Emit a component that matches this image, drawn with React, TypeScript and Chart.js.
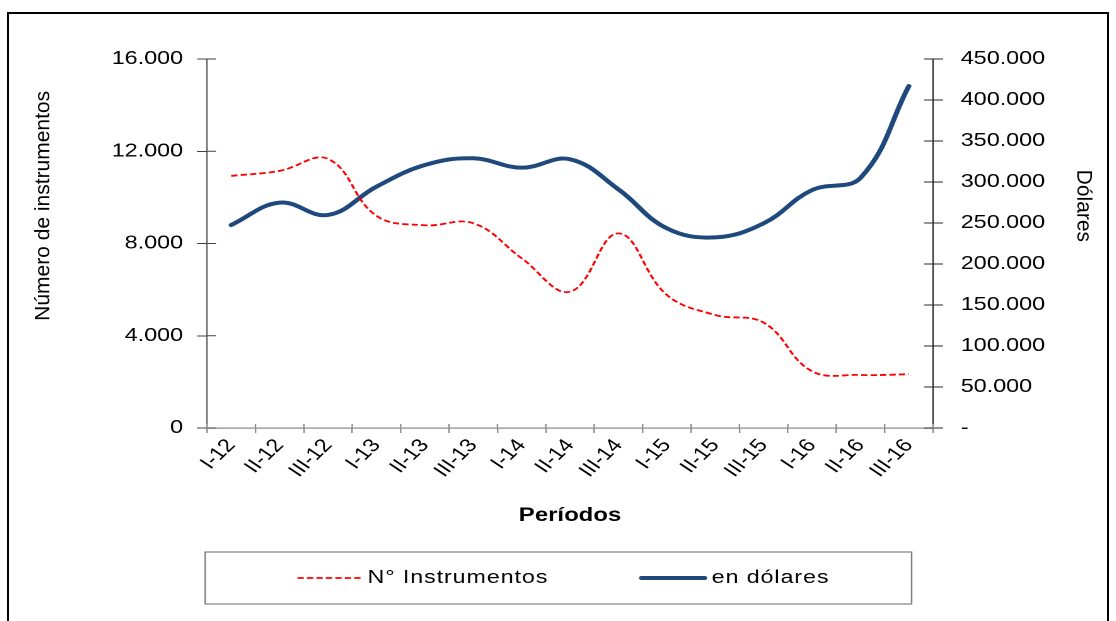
import React, { useEffect, useRef } from 'react';
import { Chart, registerables } from 'chart.js';

Chart.register(...registerables);

// ---- data ----
const CATEGORIES = ['I-12', 'II-12', 'III-12', 'I-13', 'II-13', 'III-13', 'I-14', 'II-14', 'III-14', 'I-15', 'II-15', 'III-15', 'I-16', 'II-16', 'III-16'];
const INSTRUMENTOS = [10930, 11150, 11670, 9200, 8790, 8880, 7360, 5910, 8440, 5770, 4900, 4570, 2460, 2300, 2330];
const DOLARES = [247600, 274800, 259800, 294300, 320700, 328900, 317500, 327700, 291000, 243500, 232500, 249600, 290200, 305000, 417000];
const LEFT_TICKS = [0, 4000, 8000, 12000, 16000];
const RIGHT_TICKS = [0, 50000, 100000, 150000, 200000, 250000, 300000, 350000, 400000, 450000];
const SERIES_NAMES = ['N° Instrumentos', 'en dólares'];
const X_TITLE = 'Períodos';
const LEFT_TITLE = 'Número de instrumentos';
const RIGHT_TITLE = 'Dólares';

// ---- style / layout ----
const FONT = "'Liberation Sans', Arial, Helvetica, sans-serif";
const INNER_W = 1098;
const PRE_W = 871;
const S = INNER_W / PRE_W;
const CANVAS_H = 607;

const fmt = (v: number) => String(Math.round(v)).replace(/\B(?=(\d{3})+(?!\d))/g, '.');

const decorPlugin = {
  id: 'decor',
  afterDraw(chart: any) {
    const { ctx, chartArea: ca, scales } = chart;
    const x = scales.x;
    const yl = scales.y;
    const yr = scales.y1;
    const line = (x1: number, y1: number, x2: number, y2: number) => {
      ctx.beginPath();
      ctx.moveTo(x1, y1);
      ctx.lineTo(x2, y2);
      ctx.stroke();
    };
    ctx.save();
    // inward halves of the crossing tick marks
    ctx.lineWidth = 1;
    ctx.strokeStyle = '#404040';
    yl.ticks.forEach((t: any) => {
      const py = yl.getPixelForValue(t.value);
      line(ca.left, py, ca.left + 7, py);
    });
    ctx.strokeStyle = '#262626';
    yr.ticks.forEach((t: any) => {
      const py = yr.getPixelForValue(t.value);
      line(ca.right, py, ca.right - 7, py);
    });
    ctx.strokeStyle = '#8c8c8c';
    ctx.lineWidth = 1.2;
    const step = x.getPixelForValue(1) - x.getPixelForValue(0);
    for (let i = 0; i <= CATEGORIES.length; i++) {
      const px = x.getPixelForValue(0) - step / 2 + i * step;
      line(px, ca.bottom, px, ca.bottom - 4);
    }

    // vertical axis titles (drawn un-stretched)
    ctx.fillStyle = '#000';
    ctx.font = `21px ${FONT}`;
    ctx.textAlign = 'center';
    ctx.textBaseline = 'middle';
    const ty = ca.top + (ca.bottom - ca.top) * 0.398;
    ctx.save();
    ctx.translate(yl.left + 27.5, ty);
    ctx.scale(1 / S, 1);
    ctx.rotate(-Math.PI / 2);
    ctx.fillText(LEFT_TITLE, 0, 0);
    ctx.restore();
    ctx.save();
    ctx.translate(yr.right - 19, ty);
    ctx.scale(1 / S, 1);
    ctx.rotate(Math.PI / 2);
    ctx.fillText(RIGHT_TITLE, 0, 0);
    ctx.restore();

    // legend box
    const ds = chart.data.datasets;
    const boxL = ca.left - 1.5;
    const boxR = ca.right - 17;
    const boxT = ca.bottom + 124;
    const boxH = 52;
    ctx.strokeStyle = '#7f7f7f';
    ctx.lineWidth = 1.2;
    ctx.strokeRect(boxL, boxT, boxR - boxL, boxH);
    ctx.font = `18.5px ${FONT}`;
    try { (ctx as any).letterSpacing = '0.7px'; } catch (e) { /* ignore */ }
    const sampleW = 50;
    const gap = 5.6;
    const itemGap = 74;
    const widths = ds.map((d: any) => sampleW + gap + ctx.measureText(d.label).width);
    const total = widths.reduce((a: number, b: number) => a + b, 0) + itemGap * (ds.length - 1);
    let cx = (boxL + boxR) / 2 - total / 2 + 4;
    const cy = boxT + boxH / 2;
    ds.forEach((d: any, i: number) => {
      ctx.save();
      ctx.strokeStyle = d.borderColor;
      ctx.lineWidth = d.borderWidth;
      ctx.lineCap = d.borderCapStyle || 'butt';
      ctx.setLineDash(d.borderDash || []);
      line(cx, cy, cx + sampleW, cy);
      ctx.restore();
      ctx.fillStyle = '#000';
      ctx.textAlign = 'left';
      ctx.textBaseline = 'middle';
      ctx.fillText(d.label, cx + sampleW + gap, cy);
      cx += widths[i] + itemGap;
    });
    try { (ctx as any).letterSpacing = '0px'; } catch (e) { /* ignore */ }
    ctx.restore();
  },
};

export default function App() {
  const ref = useRef<HTMLCanvasElement>(null);

  useEffect(() => {
    if (!ref.current) return;
    const chart = new Chart(ref.current, {
      type: 'line',
      data: {
        labels: CATEGORIES,
        datasets: [
          {
            label: SERIES_NAMES[0],
            data: INSTRUMENTOS,
            yAxisID: 'y',
            borderColor: '#ff0000',
            borderWidth: 1.8,
            borderDash: [5, 2.5],
            tension: 0.4,
            pointRadius: 0,
            fill: false,
          },
          {
            label: SERIES_NAMES[1],
            data: DOLARES,
            yAxisID: 'y1',
            borderColor: '#1f497d',
            borderWidth: 4,
            borderCapStyle: 'round',
            borderJoinStyle: 'round',
            tension: 0.4,
            pointRadius: 0,
            fill: false,
          },
        ],
      },
      options: {
        animation: false,
        responsive: true,
        maintainAspectRatio: false,
        devicePixelRatio: 2,
        layout: { padding: { left: 0, right: 0, top: 45, bottom: CANVAS_H - 414 - 99.4 } },
        plugins: { legend: { display: false }, tooltip: { enabled: false } },
        scales: {
          x: {
            type: 'category',
            offset: true,
            grid: { display: true, drawOnChartArea: false, drawTicks: true, tickLength: 5, offset: true, color: '#8c8c8c', lineWidth: 1.2 },
            border: { display: true, color: '#8c8c8c', width: 1.2 },
            ticks: { autoSkip: false, minRotation: 50, maxRotation: 50, padding: 2, color: '#000', font: { family: FONT, size: 18.5 } },
            title: { display: true, text: X_TITLE, color: '#000', font: { family: FONT, size: 19, weight: 'bold' }, padding: { top: 0, bottom: 0 } },
            afterFit: (s: any) => { s.height = 99.4; },
          },
          y: {
            type: 'linear',
            position: 'left',
            min: LEFT_TICKS[0],
            max: LEFT_TICKS[LEFT_TICKS.length - 1],
            afterBuildTicks: (s: any) => { s.ticks = LEFT_TICKS.map((v) => ({ value: v })); },
            grid: { drawOnChartArea: false, drawTicks: true, tickLength: 8, color: '#404040', lineWidth: 1 },
            border: { display: true, color: '#595959', width: 1 },
            ticks: { padding: 11, color: '#000', font: { family: FONT, size: 18.5 }, callback: (v: any) => fmt(Number(v)) },
            afterFit: (s: any) => { s.width = 157.1; },
          },
          y1: {
            type: 'linear',
            position: 'right',
            min: RIGHT_TICKS[0],
            max: RIGHT_TICKS[RIGHT_TICKS.length - 1],
            afterBuildTicks: (s: any) => { s.ticks = RIGHT_TICKS.map((v) => ({ value: v })); },
            grid: { drawOnChartArea: false, drawTicks: true, tickLength: 8, color: '#262626', lineWidth: 1 },
            border: { display: true, color: '#262626', width: 1 },
            ticks: { padding: 14, color: '#000', font: { family: FONT, size: 18.5 }, callback: (v: any) => (Number(v) === 0 ? '-' : fmt(Number(v))) },
            afterFit: (s: any) => { s.width = PRE_W - 733; },
          },
        },
      },
      plugins: [decorPlugin],
    } as any);
    return () => chart.destroy();
  }, []);

  return (
    <>
      <style>{`html,body{overflow:hidden;}`}</style>
      <div
        style={{
          position: 'absolute',
          left: 7,
          top: 12,
          width: INNER_W,
          height: 640,
          border: '2px solid #000',
          background: '#fff',
          overflow: 'hidden',
        }}
      >
        <div style={{ width: PRE_W, height: CANVAS_H, transform: `scaleX(${S})`, transformOrigin: '0 0' }}>
          <canvas ref={ref} />
        </div>
      </div>
    </>
  );
}
